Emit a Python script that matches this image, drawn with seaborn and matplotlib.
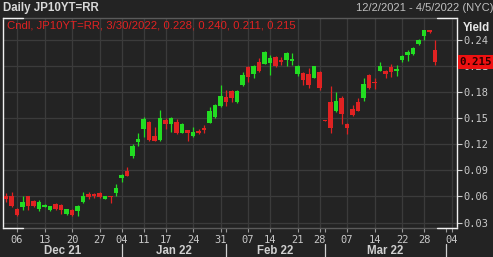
import numpy as np
import pandas as pd
import matplotlib
matplotlib.use("Agg")
import matplotlib.pyplot as plt
import matplotlib.transforms as mtransforms
import seaborn as sns

# ---------------- data ----------------
dates = ["2021-12-02", "2021-12-03", "2021-12-06", "2021-12-07", "2021-12-08", "2021-12-09",
         "2021-12-10", "2021-12-13", "2021-12-14", "2021-12-15", "2021-12-16", "2021-12-17",
         "2021-12-20", "2021-12-21", "2021-12-22", "2021-12-23", "2021-12-24", "2021-12-27",
         "2021-12-28", "2021-12-29", "2021-12-30", "2022-01-04", "2022-01-05", "2022-01-06",
         "2022-01-07", "2022-01-11", "2022-01-12", "2022-01-13", "2022-01-14", "2022-01-17",
         "2022-01-18", "2022-01-19", "2022-01-20", "2022-01-21", "2022-01-24", "2022-01-25",
         "2022-01-26", "2022-01-27", "2022-01-28", "2022-01-31", "2022-02-01", "2022-02-02",
         "2022-02-03", "2022-02-04", "2022-02-07", "2022-02-08", "2022-02-09", "2022-02-10",
         "2022-02-14", "2022-02-15", "2022-02-16", "2022-02-17", "2022-02-18", "2022-02-21",
         "2022-02-22", "2022-02-24", "2022-02-25", "2022-02-28", "2022-03-01", "2022-03-02",
         "2022-03-03", "2022-03-04", "2022-03-07", "2022-03-08", "2022-03-09", "2022-03-10",
         "2022-03-11", "2022-03-14", "2022-03-15", "2022-03-16", "2022-03-17", "2022-03-18",
         "2022-03-22", "2022-03-23", "2022-03-24", "2022-03-25", "2022-03-28", "2022-03-29",
         "2022-03-30"]
opens = [0.060, 0.060, 0.046, 0.048, 0.060, 0.055, 0.0455, 0.048, 0.044, 0.051, 0.0505, 0.040,
         0.0447, 0.043, 0.0535, 0.063, 0.0628, 0.064, 0.057, 0.060, 0.064, 0.081, 0.089, 0.106,
         0.123, 0.138, 0.146, 0.1295, 0.125, 0.148, 0.1435, 0.146, 0.1335, 0.1365, 0.129, 0.1354,
         0.1384, 0.145, 0.151, 0.164, 0.1748, 0.181, 0.169, 0.188, 0.2093, 0.2005, 0.2143, 0.2124,
         0.2132, 0.2208, 0.217, 0.217, 0.2158, 0.2005, 0.2024, 0.2005, 0.1966, 0.2035, 0.148,
         0.1683, 0.1583, 0.1737, 0.143, 0.1606, 0.1683, 0.1737, 0.1997, 0.1913, 0.2043, 0.2043,
         0.2093, 0.2047, 0.217, 0.2227, 0.2239, 0.235, 0.245, 0.2515, 0.228]
highs = [0.0645, 0.065, 0.047, 0.061, 0.061, 0.056, 0.056, 0.051, 0.049, 0.052, 0.051, 0.046,
         0.045, 0.050, 0.065, 0.0646, 0.064, 0.065, 0.061, 0.0605, 0.074, 0.086, 0.094, 0.120,
         0.1326, 0.151, 0.147, 0.140, 0.1595, 0.150, 0.151, 0.149, 0.145, 0.137, 0.1395, 0.138,
         0.142, 0.163, 0.166, 0.188, 0.1825, 0.182, 0.182, 0.2028, 0.210, 0.2112, 0.2196, 0.2273,
         0.2227, 0.2215, 0.2208, 0.2266, 0.2246, 0.2112, 0.203, 0.2074, 0.2105, 0.204, 0.148,
         0.1875, 0.180, 0.176, 0.1442, 0.1652, 0.173, 0.1966, 0.2005, 0.1966, 0.215, 0.2055,
         0.212, 0.2112, 0.2227, 0.2285, 0.232, 0.2412, 0.252, 0.252, 0.240]
lows = [0.054, 0.048, 0.038, 0.044, 0.044, 0.048, 0.0427, 0.0475, 0.043, 0.044, 0.040, 0.039,
        0.038, 0.038, 0.053, 0.057, 0.058, 0.058, 0.0565, 0.053, 0.061, 0.077, 0.083, 0.1045,
        0.118, 0.128, 0.124, 0.1235, 0.124, 0.138, 0.1345, 0.132, 0.133, 0.124, 0.128, 0.132,
        0.1333, 0.144, 0.150, 0.163, 0.164, 0.169, 0.168, 0.1875, 0.192, 0.196, 0.2035, 0.212,
        0.1997, 0.2095, 0.2112, 0.2104, 0.2112, 0.199, 0.188, 0.185, 0.196, 0.1825, 0.147,
        0.1326, 0.157, 0.143, 0.1315, 0.153, 0.158, 0.1698, 0.1836, 0.1836, 0.204, 0.1966,
        0.1978, 0.199, 0.215, 0.2158, 0.223, 0.2343, 0.240, 0.2477, 0.211]
closes = [0.057, 0.049, 0.039, 0.054, 0.0485, 0.049, 0.054, 0.0505, 0.0485, 0.045, 0.044, 0.045,
          0.0386, 0.049, 0.060, 0.059, 0.060, 0.059, 0.060, 0.0593, 0.070, 0.085, 0.084, 0.118,
          0.1257, 0.149, 0.125, 0.124, 0.150, 0.143, 0.150, 0.1326, 0.1435, 0.1326, 0.1345,
          0.1333, 0.1365, 0.1587, 0.165, 0.176, 0.169, 0.173, 0.1813, 0.1997, 0.1978, 0.2104,
          0.2043, 0.2258, 0.2196, 0.2104, 0.2143, 0.2246, 0.2181, 0.2104, 0.194, 0.188, 0.210,
          0.1844, 0.147, 0.1384, 0.1698, 0.1545, 0.1384, 0.1537, 0.1583, 0.189, 0.1844, 0.190,
          0.2104, 0.2005, 0.2035, 0.2062, 0.2216, 0.2266, 0.2312, 0.240, 0.2515, 0.2496, 0.215]
extra_axis_dates = ["2022-03-31", "2022-04-01", "2022-04-04", "2022-04-05"]

tick_dates = ["2021-12-06", "2021-12-13", "2021-12-20", "2021-12-27", "2022-01-04", "2022-01-11",
              "2022-01-17", "2022-01-24", "2022-01-31", "2022-02-07", "2022-02-14", "2022-02-21",
              "2022-02-28", "2022-03-07", "2022-03-14", "2022-03-22", "2022-03-28", "2022-04-04"]
tick_labels = ["06", "13", "20", "27", "04", "11", "17", "24", "31", "07", "14", "21", "28",
               "07", "14", "22", "28", "04"]
month_starts = ["2022-01-04", "2022-02-01", "2022-03-01", "2022-04-01"]
month_labels = ["Dec 21", "Jan 22", "Feb 22", "Mar 22"]
yticks = [0.03, 0.06, 0.09, 0.12, 0.15, 0.18, 0.21, 0.24]
last_close = 0.215

# ---------------- styling ----------------
BG = "#232323"
GRID = "#3b3b3b"
GREEN = "#22dd22"
RED = "#e02222"
TXT = "#c8c8c8"

sns.set_theme(style="dark", rc={"axes.facecolor": BG, "figure.facecolor": BG,
                                "grid.color": GRID})
plt.rcParams["font.family"] = ["Liberation Sans", "DejaVu Sans"]

W, H = 493, 257
fig = plt.figure(figsize=(W / 100, H / 100), dpi=100)
L, R, T, B = 3, 457, 18, 228
ax = fig.add_axes([L / W, (H - B) / H, (R - L) / W, (B - T) / H])
ax.set_facecolor(BG)

all_days = dates + extra_axis_dates
pos = {d: i for i, d in enumerate(all_days)}
df = pd.DataFrame({"date": dates, "open": opens, "high": highs, "low": lows, "close": closes})
df["x"] = df["date"].map(pos)
df["up"] = df["close"] >= df["open"]
df["color"] = np.where(df["up"], GREEN, RED)
df["bottom"] = df[["open", "close"]].min(axis=1)
df["height"] = (df["close"] - df["open"]).abs().clip(lower=0.0009)

# grid
ax.set_axisbelow(True)
ax.grid(True, axis="both", color=GRID, lw=0.9)

# wicks + bodies
ax.vlines(df["x"], df["low"], df["high"], colors=df["color"], lw=0.9, zorder=3)
ax.bar(df["x"], df["height"], bottom=df["bottom"], width=0.75, color=df["color"],
       edgecolor="none", zorder=4)

xl = (-0.55, 82.0)
ax.set_xlim(*xl)
ax.set_ylim(0.0237, 0.2653)

# x ticks
ax.set_xticks([pos[d] for d in tick_dates])
ax.set_xticklabels(tick_labels)
ax.set_xticks([pos[d] for d in month_starts], minor=True)
ax.tick_params(axis="x", which="both", direction="out", length=3, width=0.8, color="#9a9a9a",
               pad=2, labelsize=7.5, labelcolor=TXT, bottom=True)
for lab in ax.get_xticklabels():
    lab.set_fontfamily("DejaVu Sans Mono")

# y ticks right
ax.yaxis.tick_right()
ax.set_yticks(yticks)
ax.set_yticklabels([f"{v:.2f}" for v in yticks])
ax.tick_params(axis="y", direction="out", length=3.6, width=0.8, color="#d0d0d0",
               pad=1, labelsize=7.5, labelcolor=TXT, right=True, left=False)
for lab in ax.get_yticklabels():
    lab.set_fontfamily("DejaVu Sans Mono")

# spines
for s in ["left", "right"]:
    ax.spines[s].set_color("#f0f0f0")
    ax.spines[s].set_linewidth(1.0)
for s in ["top", "bottom"]:
    ax.spines[s].set_color("#5a5a5a")
    ax.spines[s].set_linewidth(1.0)
seg = 20 / (R - L)
for y0 in (0, 1):
    for xa in ((0, seg), (1 - seg, 1)):
        ax.plot(xa, (y0, y0), transform=ax.transAxes, color="#f0f0f0", lw=1.0,
                clip_on=False, zorder=6)

# month labels + separators
trans = mtransforms.blended_transform_factory(ax.transData, ax.transAxes)
bounds = [xl[0]] + [pos[d] for d in month_starts]
for i, lab in enumerate(month_labels):
    cx = (bounds[i] + bounds[i + 1]) / 2
    ax.text(cx, -0.108, lab, transform=trans, ha="center", va="center", fontsize=8.3,
            fontweight="bold", color="#d0d0d0", clip_on=False)
for d in month_starts:
    ax.plot([pos[d], pos[d]], [-0.078, -0.14], transform=trans, color="#d0d0d0", lw=0.9,
            clip_on=False)

# last price box
ytr = mtransforms.blended_transform_factory(ax.transAxes, ax.transData)
ax.text(1.006, last_close, f"{last_close:.3f}", transform=ytr, ha="left", va="center",
        fontsize=7.8, fontweight="bold", family="DejaVu Sans Mono", color="#2a0000",
        bbox=dict(boxstyle="square,pad=0.18", fc="#ee1111", ec="none"), zorder=10,
        clip_on=False)

# header texts
fig.text(3 / W, 1 - 8 / H, "Daily JP10YT=RR", ha="left", va="center", fontsize=8.3,
         fontweight="bold", color="#d8d8d8")
fig.text(1.0, 1 - 8 / H, "12/2/2021 - 4/5/2022 (NYC)", ha="right", va="center",
         fontsize=8, color="#c0c0c0")
ax.text(7 / W, 1 - 25 / H, "Cndl, JP10YT=RR, 3/30/2022, 0.228, 0.240, 0.211, 0.215",
        transform=fig.transFigure, ha="left", va="center", fontsize=8.2, color=RED)
fig.text(463 / W, 1 - 28 / H, "Yield", ha="left", va="center", fontsize=8.3,
         fontweight="bold", color="#e8e8e8")

fig.savefig("out.png", dpi=100, facecolor=BG)
